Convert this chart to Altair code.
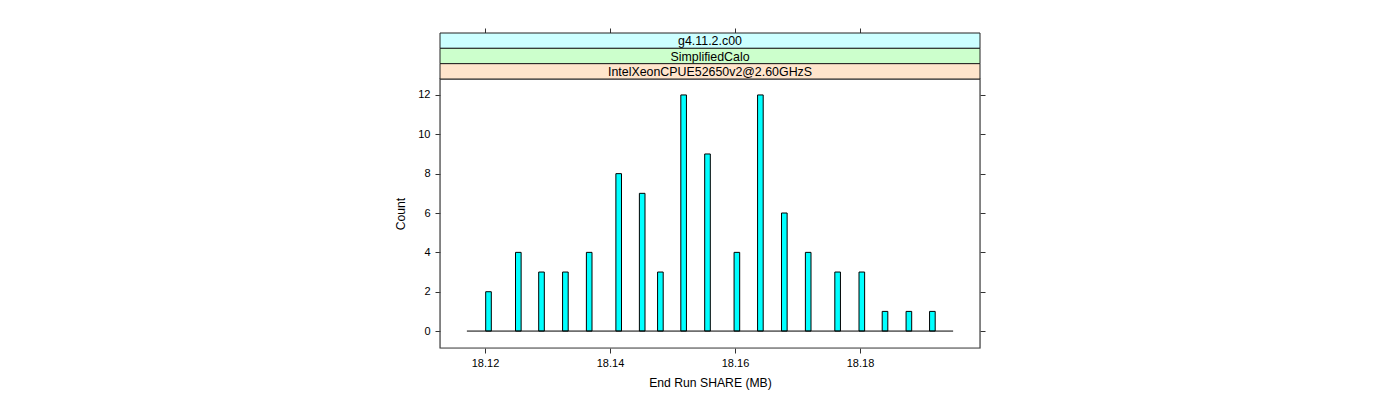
import altair as alt
import pandas as pd

# Histogram bin centers (MB) and counts
bin_centers = [18.12056, 18.12533, 18.12904, 18.13286, 18.13667, 18.14139, 18.14515,
               18.14806, 18.15178, 18.15560, 18.16030, 18.16406, 18.16789, 18.17171,
               18.17642, 18.18029, 18.18400, 18.18782, 18.19158]
counts = [2, 4, 3, 3, 4, 8, 7, 3, 12, 9, 4, 12, 6, 4, 3, 3, 1, 1, 1]
bin_width = 0.0009
hist_range = [18.1171, 18.1949]

strip_labels = ["g4.11.2.c00", "SimplifiedCalo", "IntelXeonCPUE52650v2@2.60GHzS"]
strip_colors = ["#ccffff", "#ccffcc", "#ffe5cc"]
x_ticks = [18.12, 18.14, 18.16, 18.18]
y_ticks = [0, 2, 4, 6, 8, 10, 12]

df = pd.DataFrame({
    "lo": [c - bin_width / 2 for c in bin_centers],
    "hi": [c + bin_width / 2 for c in bin_centers],
    "count": counts,
    "zero": [0] * len(counts),
})
base_df = pd.DataFrame({"x1": [hist_range[0]], "x2": [hist_range[1]], "y": [0]})

W, H = 540, 269
xscale = alt.Scale(domain=[18.1128, 18.1992], nice=False, zero=False)
yscale = alt.Scale(domain=[-0.86, 12.81], nice=False, zero=False)

font = "Liberation Sans"
axis_common = dict(domain=False, grid=False, tickColor="#333", tickSize=5,
                   labelFont=font, labelFontSize=11, labelColor="black",
                   titleFont=font, titleFontSize=12.2, titleFontWeight="normal",
                   titleColor="black")

bars = alt.Chart(df).mark_rect(fill="#00ffff", stroke="black", strokeWidth=1).encode(
    x=alt.X("lo:Q", scale=xscale,
            axis=alt.Axis(values=x_ticks, format=".2f", title="End Run SHARE (MB)",
                          orient="bottom", labelPadding=4, titlePadding=8, **axis_common)),
    x2="hi:Q",
    y=alt.Y("zero:Q", scale=yscale,
            axis=alt.Axis(values=y_ticks, title="Count", orient="left",
                          labelPadding=5, titlePadding=10, **axis_common)),
    y2="count:Q",
)

baseline = alt.Chart(base_df).mark_rule(color="black", strokeWidth=1).encode(
    x=alt.X("x1:Q", scale=xscale,
            axis=alt.Axis(values=x_ticks, orient="top", labels=False, title=None,
                          offset=46, domain=False, grid=False, tickColor="#333", tickSize=5)),
    x2="x2:Q",
    y=alt.Y("y:Q", scale=yscale,
            axis=alt.Axis(values=y_ticks, orient="right", labels=False, title=None,
                          domain=False, grid=False, tickColor="#333", tickSize=5)),
)

frame = alt.Chart(pd.DataFrame({"a": [0]})).mark_rect(
    fill="transparent", stroke="#444", strokeWidth=1.2, clip=False).encode(
    x=alt.value(0), x2=alt.value(W), y=alt.value(0), y2=alt.value(H))

strip_h = 46 / 3
layers = [bars, baseline, frame]
for i, (lab, col) in enumerate(zip(strip_labels, strip_colors)):
    top = -46 + i * strip_h
    rect = alt.Chart(pd.DataFrame({"a": [0]})).mark_rect(
        fill=col, stroke="#222", strokeWidth=1, clip=False).encode(
        x=alt.value(0), x2=alt.value(W), y=alt.value(top), y2=alt.value(top + strip_h))
    txt = alt.Chart(pd.DataFrame({"a": [lab]})).mark_text(
        font=font, fontSize=12.4, color="black", baseline="middle", align="center").encode(
        x=alt.value(W / 2), y=alt.value(top + strip_h / 2 + 0.5), text="a:N")
    layers += [rect, txt]

chart = alt.layer(*layers).resolve_axis(x="independent", y="independent").properties(
    width=W, height=H,
    autosize=alt.AutoSizeParams(type="none"),
    padding={"left": 432, "top": 71, "right": 380, "bottom": 44},
).configure_view(strokeWidth=0).configure(background="white")

chart.save("out.html", embed_options={"renderer": "svg", "actions": False})
